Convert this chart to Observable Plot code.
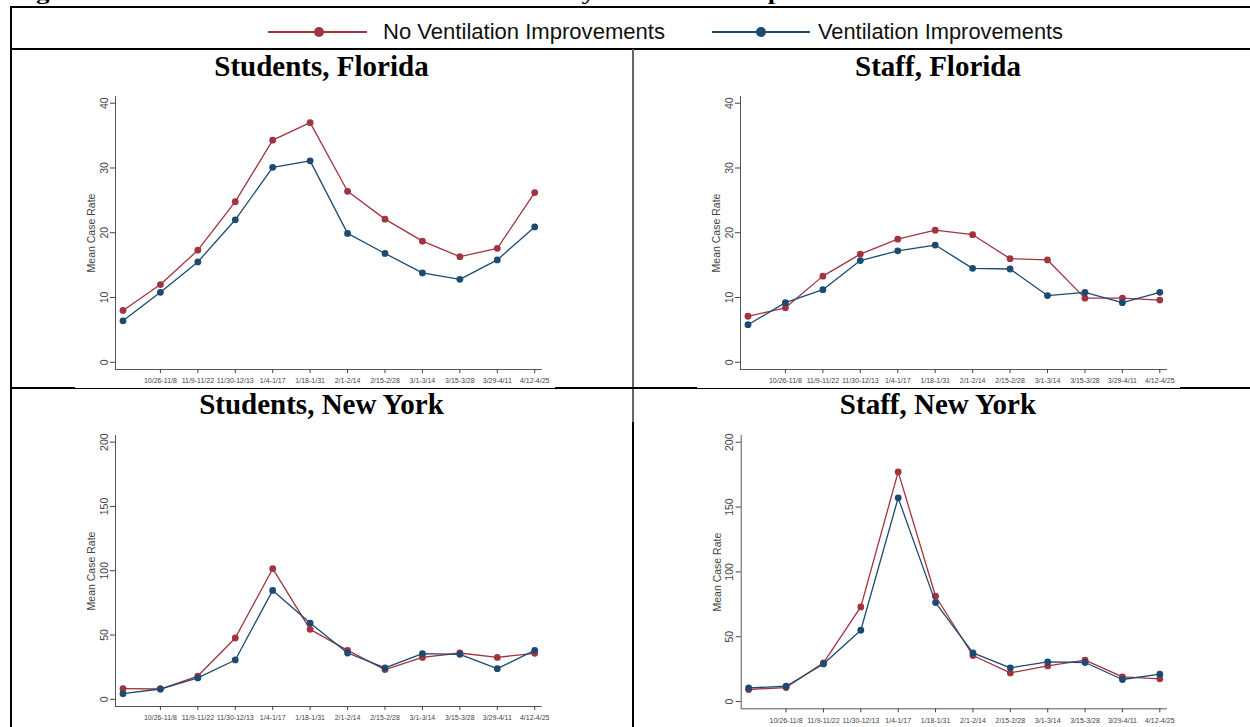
<!DOCTYPE html>
<html><head><meta charset="utf-8">
<script src="https://cdn.jsdelivr.net/npm/d3@7"></script>
<script src="https://cdn.jsdelivr.net/npm/@observablehq/plot@0.6"></script>
<style>
body{margin:0;background:#fff;width:1250px;height:727px;overflow:hidden;position:relative;font-family:"Liberation Sans",Arial,sans-serif}
.hl{position:absolute;height:2px;background:#000}
.vl{position:absolute;width:2px;background:#000}
.ptitle{position:absolute;font-family:"Liberation Serif","Times New Roman",serif;font-weight:bold;font-size:29px;text-align:center;line-height:29px;color:#000}
.panel{position:absolute;background:#fff}
</style></head>
<body>
<svg id="figtitle" style="position:absolute;left:0;top:0" width="1250" height="7">
  <text x="12" y="0" font-family="Liberation Serif, Times New Roman, serif" font-weight="bold" font-size="19" textLength="1183" lengthAdjust="spacingAndGlyphs">Figure S3a. Mean Student and Staff Case Rates by Ventilation Improvements in Florida and New York</text>
</svg>
<div class="hl" style="left:10px;top:6px;width:1240px"></div>
<div class="vl" style="left:10px;top:6px;height:721px"></div>
<div class="hl" style="left:10px;top:48px;width:1240px"></div>
<div class="vl" style="left:632px;top:49px;height:373px;background:#666"></div>
<div class="vl" style="left:632px;top:422px;height:305px"></div>
<div class="hl" style="left:10px;top:387px;width:1240px"></div>

<div id="legend" style="position:absolute;left:110px;top:8px;width:1045px;height:40px;background:#fff"></div>

<div class="ptitle" style="left:10px;top:52px;width:623px">Students, Florida</div>
<div class="ptitle" style="left:633px;top:52px;width:610px">Staff, Florida</div>
<div class="ptitle" style="left:10px;top:390px;width:623px">Students, New York</div>
<div class="ptitle" style="left:633px;top:390px;width:610px">Staff, New York</div>

<div id="p1" class="panel" style="left:75px;top:90px"></div>
<div id="p2" class="panel" style="left:697px;top:90px"></div>
<div id="p3" class="panel" style="left:75px;top:422px"></div>
<div id="p4" class="panel" style="left:697px;top:422px"></div>

<script>
// ---- data ----
const periodLabels = ["", "10/26-11/8", "11/9-11/22", "11/30-12/13", "1/4-1/17", "1/18-1/31", "2/1-2/14", "2/15-2/28", "3/1-3/14", "3/15-3/28", "3/29-4/11", "4/12-4/25"];
const seriesNames = ["No Ventilation Improvements", "Ventilation Improvements"];
const seriesColors = ["#a3333f", "#1c4a72"];
const flTicks = [0, 10, 20, 30, 40];
const nyTicks = [0, 50, 100, 150, 200];

const studentsFL_no   = [8.0, 12.0, 17.3, 24.8, 34.3, 37.0, 26.4, 22.1, 18.7, 16.3, 17.6, 26.2];
const studentsFL_vent = [6.4, 10.8, 15.5, 22.0, 30.1, 31.1, 19.9, 16.8, 13.8, 12.8, 15.8, 20.9];
const staffFL_no      = [7.1, 8.4, 13.3, 16.7, 19.0, 20.4, 19.7, 16.0, 15.8, 9.9, 9.9, 9.6];
const staffFL_vent    = [5.8, 9.2, 11.2, 15.7, 17.2, 18.1, 14.5, 14.4, 10.3, 10.8, 9.2, 10.8];
const studentsNY_no   = [8.3, 8.0, 18.1, 47.7, 101.6, 54.4, 38.1, 23.1, 32.6, 36.0, 32.6, 35.8];
const studentsNY_vent = [4.4, 8.0, 16.6, 30.6, 84.7, 59.3, 36.0, 24.4, 35.5, 35.0, 23.8, 38.1];
const staffNY_no      = [9.3, 10.8, 29.8, 73.0, 177.1, 81.2, 35.5, 22.1, 27.5, 31.9, 19.0, 17.5];
const staffNY_vent    = [10.5, 11.8, 29.0, 55.0, 157.1, 76.3, 37.5, 26.0, 30.6, 30.1, 17.0, 21.1];

// ---- legend ----
(function(){
  const ns = "http://www.w3.org/2000/svg";
  const svg = document.createElementNS(ns, "svg");
  svg.setAttribute("width", 1045); svg.setAttribute("height", 40);
  const items = [
    {x1: 158, x2: 257, cx: 209, tx: 273, tl: 282},
    {x1: 602, x2: 700, cx: 651, tx: 708, tl: 245}
  ];
  items.forEach((it, i) => {
    const l = document.createElementNS(ns, "line");
    l.setAttribute("x1", it.x1); l.setAttribute("x2", it.x2);
    l.setAttribute("y1", 24); l.setAttribute("y2", 24);
    l.setAttribute("stroke", seriesColors[i]); l.setAttribute("stroke-width", 2);
    svg.appendChild(l);
    const c = document.createElementNS(ns, "circle");
    c.setAttribute("cx", it.cx); c.setAttribute("cy", 24); c.setAttribute("r", 5);
    c.setAttribute("fill", seriesColors[i]);
    svg.appendChild(c);
    const t = document.createElementNS(ns, "text");
    t.setAttribute("x", it.tx); t.setAttribute("y", 31);
    t.setAttribute("font-size", 22);
    t.setAttribute("font-family", "Liberation Sans Narrow, Liberation Sans, Arial, sans-serif");
    t.setAttribute("fill", "#111");
    t.setAttribute("textLength", it.tl);
    t.setAttribute("lengthAdjust", "spacingAndGlyphs");
    t.textContent = seriesNames[i];
    svg.appendChild(t);
  });
  document.getElementById("legend").appendChild(svg);
})();

// ---- panels ----
function panel(el, no, vent, yTicks, box) {
  const n = no.length;
  const ymax = yTicks[yTicks.length - 1];
  const xDomain = [-0.2, n - 1 + 0.2];
  const yDomain = [-0.028 * ymax, 1.026 * ymax];
  const xTicks = d3.range(n).filter(i => periodLabels[i] !== "");
  const rows = (arr) => arr.map((v, i) => ({i, v}));
  const chart = Plot.plot({
    width: box.w, height: box.h,
    marginLeft: box.ml, marginRight: box.mr, marginTop: box.mt, marginBottom: box.mb,
    style: {background: "transparent", fontFamily: "Liberation Sans, Arial, sans-serif", overflow: "visible"},
    x: {type: "linear", domain: xDomain},
    y: {type: "linear", domain: yDomain},
    marks: [
      Plot.ruleX([xDomain[0]], {stroke: "#555", strokeWidth: 1}),
      Plot.ruleY([yDomain[0]], {stroke: "#555", strokeWidth: 1}),
      Plot.axisY({ticks: yTicks, tickSize: 5, tickRotate: -90, tickPadding: 3, fontSize: 10.5, color: "#444",
                  label: "Mean Case Rate", labelAnchor: "center", labelArrow: "none", labelOffset: 28}),
      Plot.axisX({ticks: xTicks, tickFormat: i => periodLabels[i], tickSize: 4, tickPadding: 5, fontSize: 7, color: "#444", label: null}),
      Plot.line(rows(no), {x: "i", y: "v", stroke: seriesColors[0], strokeWidth: 1.3}),
      Plot.dot(rows(no), {x: "i", y: "v", fill: seriesColors[0], r: 3.4, stroke: "none"}),
      Plot.line(rows(vent), {x: "i", y: "v", stroke: seriesColors[1], strokeWidth: 1.3}),
      Plot.dot(rows(vent), {x: "i", y: "v", fill: seriesColors[1], r: 3.4, stroke: "none"})
    ]
  });
  document.getElementById(el).appendChild(chart);
}

panel("p1", studentsFL_no, studentsFL_vent, flTicks, {w: 480, h: 298, ml: 40, mr: 13.3, mt: 6, mb: 19});
panel("p2", staffFL_no, staffFL_vent, flTicks, {w: 483, h: 298, ml: 43, mr: 13.2, mt: 6, mb: 19});
panel("p3", studentsNY_no, studentsNY_vent, nyTicks, {w: 480, h: 305, ml: 40, mr: 13.3, mt: 13, mb: 21});
panel("p4", staffNY_no, staffNY_vent, nyTicks, {w: 483, h: 305, ml: 43.7, mr: 13.2, mt: 13, mb: 18.7});
</script>
</body></html>
